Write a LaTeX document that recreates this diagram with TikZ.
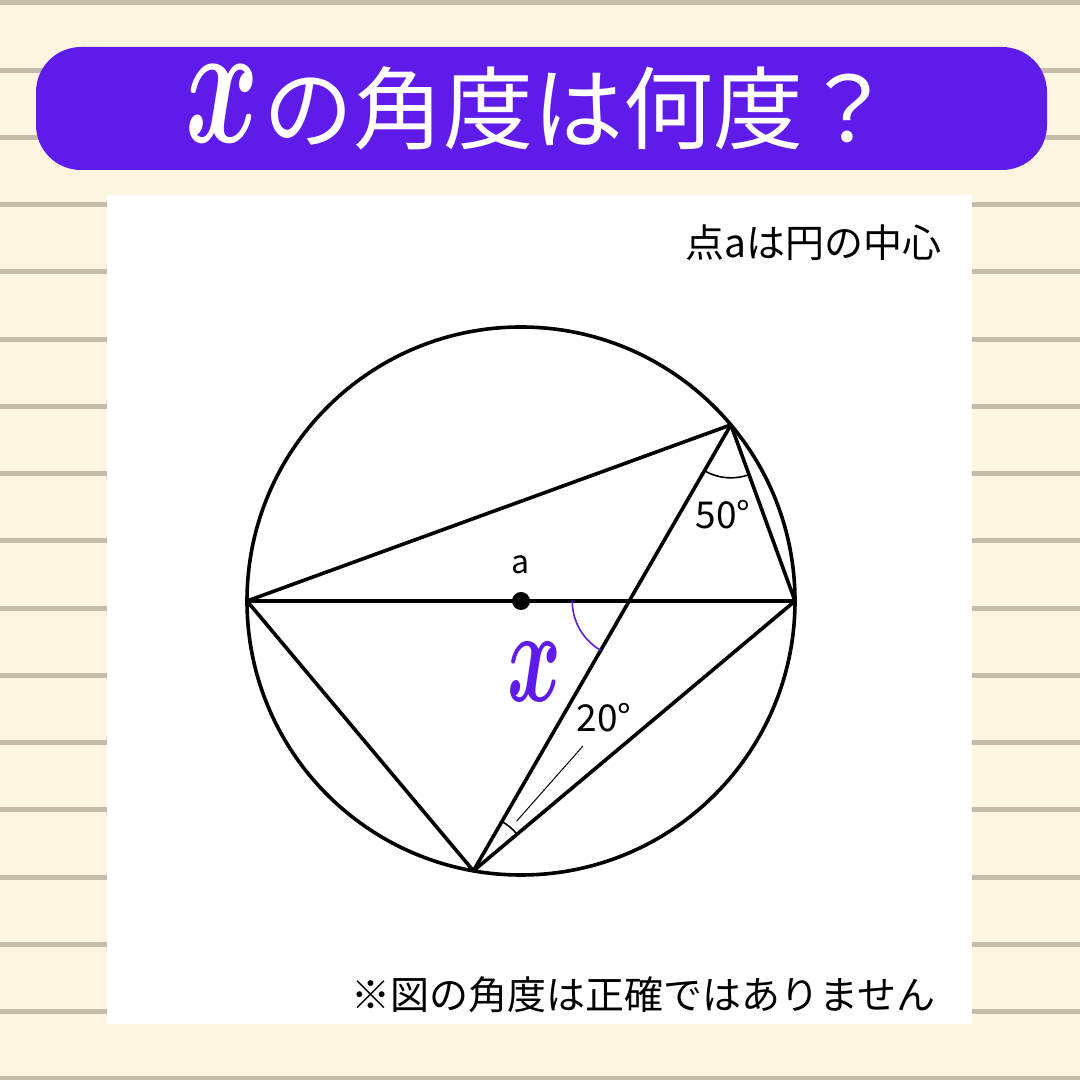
\documentclass[tikz,border=0pt]{standalone}
\usepackage{fontspec}
\newfontfamily\jp{Noto Sans CJK JP}
\usetikzlibrary{calc}
\definecolor{paper}{HTML}{FDF5E0}
\definecolor{ruleline}{HTML}{C5BCA9}
\definecolor{banner}{HTML}{5F1BE9}
\begin{document}
\begin{tikzpicture}[x=1pt,y=1pt,
    edge/.style={line width=3.6pt, line join=round},
    anglearc/.style={line width=1.6pt},
    lbl/.style={inner sep=0pt, font=\jp\fontsize{37}{37}\selectfont}]
    \useasboundingbox (0,0) rectangle (1080,1080);
    % ruled paper
    \fill[paper] (0,0) rectangle (1080,1080);
    \foreach \k in {0,...,16} \fill[ruleline] (0,{1077-67.25*\k-2.5}) rectangle (1080,{1077-67.25*\k+2.5});

    % title bar
    \fill[banner, rounded corners=45pt] (36,910) rectangle (1047,1033);
    \node[text=white, inner sep=0pt, anchor=west] (title) at (185,972)
        {\scalebox{11.2}[17.4]{\boldmath$x$}\hspace{4pt}\jp\fontsize{90}{90}\selectfont の角度は何度？};

    % white panel
    \fill[white] (107,56) rectangle (972,885);
    \node[lbl, anchor=east, font=\jp\fontsize{39}{39}\selectfont] (note) at (942,837) {点aは円の中心};
    \node[lbl, anchor=east, font=\jp\fontsize{39}{39}\selectfont] (warn) at (936,85) {※図の角度は正確ではありません};

    % circle and points on it
    \coordinate (O) at (521,479);
    \draw[edge] (O) circle (274pt);
    \path (O) ++(180:274pt) coordinate (A);
    \path (O) ++(0:274pt)   coordinate (B);
    \path (O) ++(40:274pt)  coordinate (C);
    \path (O) ++(260:274pt) coordinate (D);
    \coordinate (P) at (intersection of C--D and A--B);

    % chords
    \draw[edge] (A) -- (B);
    \draw[edge] (A) -- (C) -- (B) -- (D) -- (A);
    \draw[edge] (C) -- (D);
    \fill (O) circle (9pt);

    % angle marks
    \draw[anglearc] ([shift={(240:53pt)}]C) arc[start angle=240, end angle=290, radius=53pt];
    \draw[anglearc] ([shift={(40:57pt)}]D) arc[start angle=40, end angle=60, radius=57pt];
    \draw[anglearc, banner] ([shift={(180:57pt)}]P) arc[start angle=180, end angle=240, radius=57pt];

    % labels
    \node[lbl, font=\jp\fontsize{32}{32}\selectfont] (a) at (521,515) {a};
    \node[lbl] (deg50) at (723,565) {50°};
    \node[lbl] (deg20) at (604,362) {20°};
    \node[text=banner, inner sep=0pt] (xlbl) at (535,408) {\scalebox{8.2}[13.3]{\boldmath$x$}};
    \path (D) ++(49:66pt) coordinate (t1);
    \coordinate (t2) at (583,334);
    \draw[line width=1pt] (t1) -- (t2);
\end{tikzpicture}
\end{document}
